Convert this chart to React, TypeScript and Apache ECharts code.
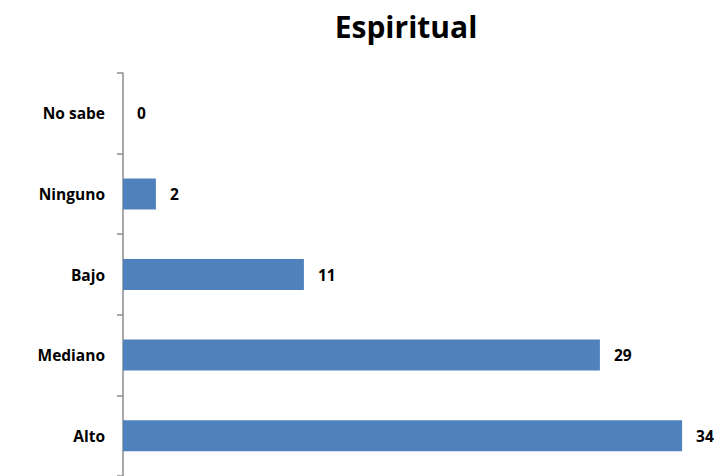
import React, { useEffect, useRef } from "react";
import * as echarts from "echarts";

const categories = ["Alto", "Mediano", "Bajo", "Ninguno", "No sabe"];
const values = [34, 29, 11, 2, 0];
const titleText = "Espiritual";

export default function App() {
  const ref = useRef<HTMLDivElement>(null);
  useEffect(() => {
    if (!ref.current) return;
    const chart = echarts.init(ref.current, null, { renderer: "svg" });
    chart.setOption({
      animation: false,
      backgroundColor: "#ffffff",
      title: {
        text: titleText,
        left: 401,
        top: 6,
        textAlign: "center",
        textStyle: { fontFamily: "Open Sans", fontWeight: "bold", fontSize: 30, color: "#000" },
      },
      grid: { left: 123, top: 73, width: 592, height: 404, containLabel: false },
      xAxis: {
        type: "value",
        min: 0,
        max: 36,
        show: false,
        splitLine: { show: false },
      },
      yAxis: {
        type: "category",
        data: categories,
        axisLine: { show: true, lineStyle: { color: "#8c8c8c", width: 1.5 } },
        axisTick: { show: true, length: 6, lineStyle: { color: "#8c8c8c", width: 1.5 } },
        axisLabel: {
          fontFamily: "Open Sans",
          fontWeight: "bold",
          fontSize: 15.5,
          color: "#000",
          margin: 18,
        },
      },
      series: [
        {
          type: "bar",
          data: values,
          barWidth: 31,
          itemStyle: { color: "#4f81bd" },
          label: {
            show: true,
            position: "right",
            distance: 14,
            fontFamily: "Open Sans",
            fontWeight: "bold",
            fontSize: 15.5,
            color: "#000",
          },
        },
      ],
    });
    return () => chart.dispose();
  }, []);
  return <div ref={ref} style={{ width: 722, height: 476, position: "fixed", left: 0, top: 0 }} />;
}
